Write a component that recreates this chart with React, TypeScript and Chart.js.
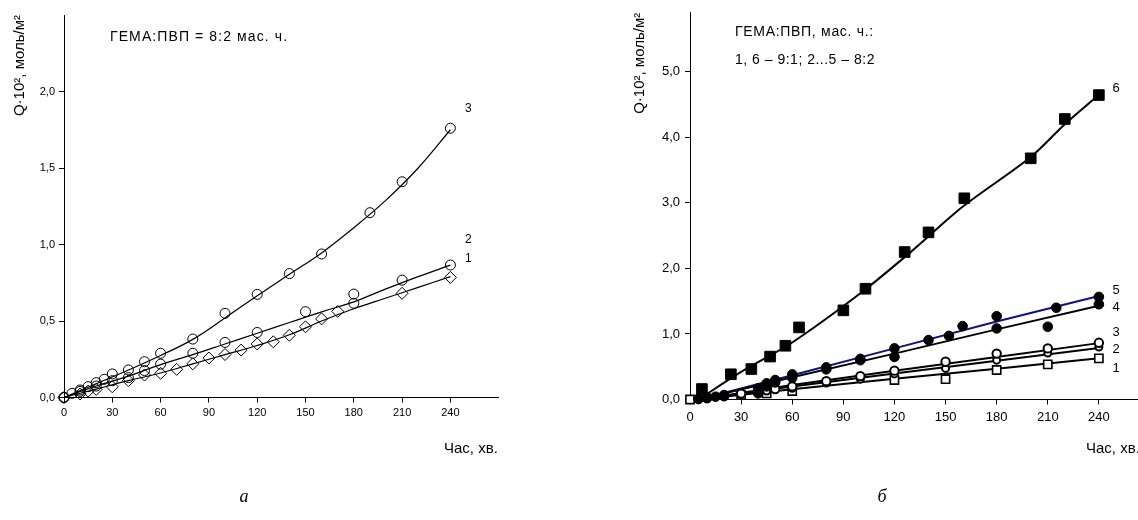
import React, { useEffect, useRef } from 'react';
import { Chart, registerables } from 'chart.js';

Chart.register(...registerables);

const FONT = "'Liberation Sans', Arial, Helvetica, sans-serif";

// ---------------- Panel а (ГЕМА:ПВП = 8:2) ----------------
const A_X1 = [0, 10, 15, 20, 30, 40, 50, 60, 70, 80, 90, 100, 110, 120, 130, 140, 150, 160, 170, 180, 210, 240];
const A_Y1 = [0, 0.023, 0.042, 0.053, 0.07, 0.11, 0.147, 0.158, 0.184, 0.22, 0.258, 0.281, 0.31, 0.35, 0.364, 0.407, 0.462, 0.514, 0.563, 0.616, 0.681, 0.785];
const A_X2 = [0, 10, 20, 30, 40, 50, 60, 80, 100, 120, 150, 180, 210, 240];
const A_Y2 = [0, 0.04, 0.075, 0.11, 0.13, 0.176, 0.218, 0.289, 0.36, 0.425, 0.561, 0.676, 0.767, 0.866];
const A_X3 = [0, 5, 10, 15, 20, 25, 30, 40, 50, 60, 80, 100, 120, 140, 160, 190, 210, 240];
const A_Y3 = [0, 0.027, 0.049, 0.071, 0.097, 0.119, 0.154, 0.18, 0.234, 0.289, 0.382, 0.55, 0.674, 0.81, 0.938, 1.208, 1.41, 1.76];
// fitted curves
const A_FIT_X = [0, 20, 40, 60, 80, 100, 120, 140, 160, 180, 200, 220, 240];
const A_FIT1 = [0, 0.055, 0.11, 0.16, 0.22, 0.28, 0.34, 0.41, 0.5, 0.58, 0.65, 0.72, 0.79];
const A_FIT2 = [0, 0.075, 0.14, 0.215, 0.28, 0.35, 0.42, 0.49, 0.56, 0.625, 0.71, 0.79, 0.865];
const A_FIT3 = [0, 0.09, 0.18, 0.275, 0.38, 0.52, 0.665, 0.805, 0.945, 1.11, 1.29, 1.5, 1.75];
const A_LABELS = ['1', '2', '3'];
const A_LABEL_Y = [0.905, 1.03, 1.89];

// ---------------- Panel б ----------------
const B_X1 = [0, 30, 45, 60, 120, 150, 180, 210, 240];
const B_Y1 = [0, 0.07, 0.094, 0.13, 0.297, 0.31, 0.45, 0.536, 0.627];
const B_X2 = [5, 15, 30, 45, 60, 80, 100, 120, 150, 180, 210, 240];
const B_Y2 = [0.01, 0.04, 0.08, 0.13, 0.17, 0.25, 0.31, 0.39, 0.474, 0.6, 0.71, 0.8];
const B_X3 = [10, 20, 30, 40, 50, 60, 80, 100, 120, 150, 180, 210, 240];
const B_Y3 = [0.03, 0.06, 0.09, 0.13, 0.16, 0.2, 0.28, 0.357, 0.44, 0.576, 0.7, 0.78, 0.865];
const B_X4 = [5, 10, 20, 40, 45, 50, 60, 80, 100, 120, 180, 210, 240];
const B_Y4 = [0.01, 0.02, 0.05, 0.094, 0.2, 0.26, 0.33, 0.46, 0.6, 0.65, 1.084, 1.11, 1.453];
const B_X5 = [5, 10, 15, 20, 40, 45, 50, 60, 80, 100, 120, 140, 152, 160, 180, 215, 240];
const B_Y5 = [0.008, 0.03, 0.043, 0.068, 0.17, 0.246, 0.297, 0.383, 0.49, 0.62, 0.78, 0.906, 0.97, 1.12, 1.27, 1.4, 1.565];
const B_X6 = [7, 24, 36, 47, 56, 64, 90, 103, 126, 140, 161, 200, 220, 240];
const B_Y6 = [0.16, 0.385, 0.465, 0.655, 0.82, 1.1, 1.36, 1.69, 2.25, 2.55, 3.07, 3.68, 4.28, 4.645];
const B_FIT_X = [5, 60, 120, 180, 240];
const B_FIT1 = [0, 0.155, 0.315, 0.47, 0.63];
const B_FIT2 = [0, 0.2, 0.395, 0.59, 0.785];
const B_FIT3 = [0, 0.22, 0.44, 0.65, 0.86];
const B_FIT4 = [0, 0.34, 0.7, 1.07, 1.43];
const B_FIT5 = [0, 0.37, 0.78, 1.19, 1.58];
const B_FIT6_X = [5, 30, 60, 100, 130, 160, 200, 220, 240];
const B_FIT6 = [0, 0.42, 0.87, 1.62, 2.26, 2.94, 3.7, 4.2, 4.65];
const B_LABELS = ['1', '2', '3', '4', '5', '6'];
const B_LABEL_Y = [0.475, 0.76, 1.02, 1.4, 1.67, 4.75];

const X_LABEL = 'Час, хв.';
const Y_LABEL = 'Q·10², моль/м²';

const pts = (xs: number[], ys: number[]) => xs.map((x, i) => ({ x, y: ys[i] }));

const textPlugin = {
  id: 'texts',
  afterDatasetsDraw(chart: any, _args: any, opts: any) {
    const ctx = chart.ctx;
    const items = (opts && opts.items) || [];
    ctx.save();
    for (const it of items) {
      ctx.font = it.font;
      ctx.fillStyle = '#000';
      ctx.textAlign = 'left';
      ctx.textBaseline = 'middle';
      if ('letterSpacing' in ctx) (ctx as any).letterSpacing = `${it.ls || 0}px`;
      let x = it.px;
      let y = it.py;
      if (it.data) {
        x = chart.scales.x.getPixelForValue(it.x);
        y = chart.scales.y.getPixelForValue(it.y);
      }
      ctx.fillText(it.text, x, y);
    }
    ctx.restore();
  },
};

function markers(xs: number[], ys: number[], style: any, radius: any, fill: string, bw: number) {
  return {
    data: pts(xs, ys),
    showLine: false,
    pointStyle: style,
    pointRadius: radius,
    pointBackgroundColor: fill,
    pointBorderColor: '#000',
    pointBorderWidth: bw,
    clip: false,
    order: 0,
  };
}

function fitLine(xs: number[], ys: number[], color: string, width: number, tension: number) {
  return {
    data: pts(xs, ys),
    showLine: true,
    pointRadius: 0,
    borderColor: color,
    borderWidth: width,
    tension,
    fill: false,
    clip: false,
    order: 1,
  };
}

interface Panel {
  width: number;
  height: number;
  left: number;
  right: number;
  top: number;
  bottom: number;
  yMax: number;
  yStep: number;
  yTickMax: number;
  yTitleX: number;
  tickSize: number;
  tickPad: number;
  titleSize: number;
  datasets: any[];
  texts: any[];
}

function makeConfig(p: Panel): any {
  return {
    type: 'scatter',
    data: { datasets: p.datasets },
    options: {
      responsive: false,
      animation: false,
      events: [],
      layout: { padding: { left: 0, top: p.top, right: p.width - p.right, bottom: 0 } },
      plugins: {
        legend: { display: false },
        tooltip: { enabled: false },
        texts: { items: p.texts },
      },
      scales: {
        x: {
          type: 'linear',
          min: 0,
          max: 270,
          afterBuildTicks: (s: any) => {
            s.ticks = s.ticks.filter((t: any) => t.value <= 240);
          },
          afterFit: (s: any) => {
            s.height = p.height - p.bottom;
          },
          ticks: {
            stepSize: 30,
            color: '#000',
            font: { family: FONT, size: p.tickSize },
            padding: p.tickPad,
            maxRotation: 0,
            autoSkip: false,
          },
          grid: { display: true, drawOnChartArea: false, drawTicks: true, tickLength: 5, color: '#000' },
          border: { display: true, color: '#000', width: 1 },
          title: { display: false },
        },
        y: {
          type: 'linear',
          min: 0,
          max: p.yMax,
          afterBuildTicks: (s: any) => {
            s.ticks = s.ticks.filter((t: any) => t.value <= p.yTickMax + 1e-9);
          },
          afterFit: (s: any) => {
            s.width = p.left;
          },
          ticks: {
            stepSize: p.yStep,
            color: '#000',
            font: { family: FONT, size: p.tickSize },
            padding: p.tickPad,
            callback: (v: any) => Number(v).toFixed(1).replace('.', ','),
          },
          grid: { display: true, drawOnChartArea: false, drawTicks: true, tickLength: 5, color: '#000' },
          border: { display: true, color: '#000', width: 1 },
          title: {
            display: true,
            text: Y_LABEL,
            align: 'end',
            color: '#000',
            font: { family: FONT, size: p.titleSize, lineHeight: 1.2 },
            padding: { top: p.yTitleX - (p.titleSize * 1.2) / 2, bottom: 0 },
          },
        },
      },
    },
    plugins: [textPlugin],
  };
}

const panelA: Panel = {
  width: 560,
  height: 520,
  left: 64,
  right: 498.7,
  top: 15,
  bottom: 397.5,
  yMax: 2.5,
  yStep: 0.5,
  yTickMax: 2.0,
  yTitleX: 20,
  tickSize: 11,
  tickPad: 4,
  titleSize: 15,
  datasets: [
    markers(A_X3, A_Y3, 'circle', 5, 'rgba(255,255,255,0)', 1),
    markers(A_X2, A_Y2, 'circle', 5, 'rgba(255,255,255,0)', 1),
    markers(A_X1, A_Y1, A_X1.map((x) => (x === 180 ? 'circle' : 'rectRot')), A_X1.map((x) => (x === 180 ? 5 : 6)), 'rgba(255,255,255,0)', 1),
    fitLine(A_FIT_X, A_FIT1, '#000', 1.2, 0.4),
    fitLine(A_FIT_X, A_FIT2, '#000', 1.2, 0.4),
    fitLine(A_FIT_X, A_FIT3, '#000', 1.2, 0.4),
  ],
  texts: [
    { text: 'ГЕМА:ПВП = 8:2 мас. ч.', px: 110, py: 37, font: `14px ${FONT}`, ls: 1.1 },
    { text: X_LABEL, px: 444, py: 449, font: `15px ${FONT}` },
    ...A_LABELS.map((t, i) => ({ text: t, data: true, x: 249, y: A_LABEL_Y[i], font: `12px ${FONT}` })),
  ],
};

const panelB: Panel = {
  width: 620,
  height: 520,
  left: 130,
  right: 590,
  top: 12,
  bottom: 399.5,
  yMax: 5.9,
  yStep: 1,
  yTickMax: 5.0,
  yTitleX: 80,
  tickSize: 13,
  tickPad: 5,
  titleSize: 15,
  datasets: [
    markers(B_X6, B_Y6, 'rect', 7.5, '#000', 1),
    markers(B_X5, B_Y5, 'circle', 4.8, '#000', 1),
    markers(B_X4, B_Y4, 'circle', 4.8, '#000', 1),
    markers(B_X3, B_Y3, 'circle', 4.2, '#fff', 2),
    markers(B_X2, B_Y2, 'circle', 3.5, '#fff', 2),
    markers(B_X1, B_Y1, 'rect', 5.8, '#fff', 1.6),
    fitLine(B_FIT_X, B_FIT1, '#000', 2, 0),
    fitLine(B_FIT_X, B_FIT2, '#000', 2, 0),
    fitLine(B_FIT_X, B_FIT3, '#000', 2, 0),
    fitLine(B_FIT_X, B_FIT4, '#000', 2, 0),
    fitLine(B_FIT_X, B_FIT5, '#10107e', 2, 0),
    fitLine(B_FIT6_X, B_FIT6, '#000', 2, 0.3),
  ],
  texts: [
    { text: 'ГЕМА:ПВП, мас. ч.:', px: 175, py: 32, font: `14px ${FONT}`, ls: 0.7 },
    { text: '1, 6 – 9:1; 2...5 – 8:2', px: 175, py: 60, font: `14px ${FONT}`, ls: 0.5 },
    { text: X_LABEL, px: 526, py: 449, font: `15px ${FONT}` },
    ...B_LABELS.map((t, i) => ({ text: t, data: true, x: 248, y: B_LABEL_Y[i], font: `13px ${FONT}` })),
  ],
};

function ChartCanvas({ panel, left }: { panel: Panel; left: number }) {
  const ref = useRef<HTMLCanvasElement | null>(null);
  useEffect(() => {
    if (!ref.current) return;
    const chart = new Chart(ref.current, makeConfig(panel));
    return () => chart.destroy();
  }, [panel]);
  return (
    <canvas
      ref={ref}
      width={panel.width}
      height={panel.height}
      style={{ position: 'absolute', left, top: 0, width: panel.width, height: panel.height }}
    />
  );
}

const captionStyle: React.CSSProperties = {
  position: 'absolute',
  top: 486,
  fontFamily: "'Liberation Serif', 'Times New Roman', serif",
  fontStyle: 'italic',
  fontSize: 18,
  color: '#000',
  transform: 'translateX(-50%)',
  lineHeight: '20px',
};

export default function App() {
  return (
    <div
      style={{
        position: 'fixed',
        left: 0,
        top: 0,
        width: 1138,
        height: 520,
        overflow: 'hidden',
        background: '#fff',
      }}
    >
      <ChartCanvas panel={panelA} left={0} />
      <ChartCanvas panel={panelB} left={560} />
      <div style={{ ...captionStyle, left: 244 }}>а</div>
      <div style={{ ...captionStyle, left: 882 }}>б</div>
    </div>
  );
}
